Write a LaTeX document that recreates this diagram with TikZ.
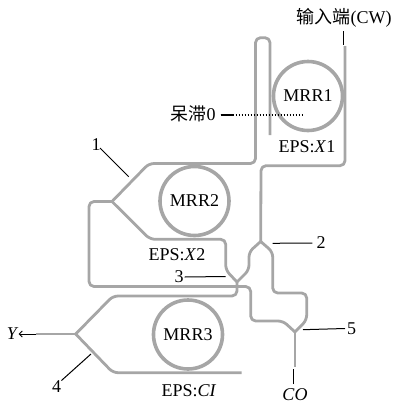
\documentclass[tikz,border=0pt]{standalone}
\usepackage{fontspec}
\setmainfont{Liberation Serif}
\newfontfamily\cjk{Noto Sans CJK SC}
\usepackage{xcolor}
\definecolor{guidegray}{RGB}{166, 166, 166}
\usetikzlibrary{arrows.meta}
\tikzset{
    guide/.style={draw=guidegray, line width=2.8pt, line join=round, rounded corners=5pt},
    ring/.style={draw=guidegray, line width=3.6pt, circle, minimum size=69pt, inner sep=0pt},
    leader/.style={draw=black, line width=1pt},
    lab/.style={inner sep=0pt, font=\fontsize{18}{20}\selectfont}
}
\begin{document}
\begin{tikzpicture}[x=1pt, y=-1pt]
    \useasboundingbox (0, 0) rectangle (404, 405);

    % Rings
    \node[ring, lab] (mrr1) at (308, 96) {MRR1};
    \node[ring, lab] (mrr2) at (194.5, 201) {MRR2};
    \node[ring, lab] (mrr3) at (188, 334.5) {MRR3};

    % Junctions and free ends
    \coordinate (j1) at (112, 201.5);
    \coordinate (j2) at (260.7, 241.5);
    \coordinate (j3) at (237, 282);
    \coordinate (j4) at (75.7, 334);
    \coordinate (j5) at (295, 332);
    \coordinate (inend) at (345, 46);
    \coordinate (dropend) at (270, 135);
    \coordinate (coend) at (295, 367);
    \coordinate (yend) at (36, 334);
    \coordinate (addend) at (241.7, 372.7);

    % Waveguides
    \draw[guide] (inend) -- (345, 165.7) -- (261, 165.7) -- (j2);
    \draw[guide] (j1) -- (149, 163.5) -- (255.5, 163.5) -- (255.5, 37.7) -- (270, 37.7) -- (dropend);
    \draw[guide] (j1) -- (150, 239.3) -- (225.7, 239.3) -- (225.7, 270) -- (j3);
    \draw[guide] (j2) -- (249, 252) -- (249, 270) -- (j3);
    \draw[guide] (j3) -- (237, 296) -- (113, 296) -- (j4);
    \draw[guide] (j1) -- (89, 201.5) -- (89, 286.5) -- (250.7, 286.5) -- (250.7, 321) -- (283, 321) -- (j5);
    \draw[guide] (j2) -- (272.7, 252) -- (272.7, 293) -- (306.7, 293) -- (306.7, 320) -- (j5);
    \draw[guide] (j5) -- (coend);
    \draw[guide] (j4) -- (yend);
    \draw[guide] (j4) -- (113, 372.7) -- (addend);

    % Labels
    \node[lab] (eps1) at (307, 146.7) {EPS:\textit{X}1};
    \node[lab] (eps2) at (177, 255) {EPS:\textit{X}2};
    \node[lab] (epsc) at (189, 390.7) {EPS:\textit{CI}};
    \node[lab] (input) at (344, 18) {{\cjk 输入端}(CW)};
    \node[lab] (still) at (193, 114) {{\cjk 呆滞}0};
    \node[lab] (n1) at (96, 145) {1};
    \node[lab] (n2) at (321, 243) {2};
    \node[lab] (n3) at (179, 277) {3};
    \node[lab] (n4) at (56.7, 386.7) {4};
    \node[lab] (n5) at (351.7, 328.5) {5};
    \node[lab] (y) at (12.7, 334) {\textit{Y}};
    \node[lab] (co) at (295, 395) {\textit{CO}};

    % Leader lines
    \coordinate (a1) at (128.7, 176.7);
    \coordinate (a2) at (272.7, 243.3);
    \coordinate (a3) at (225.7, 276.5);
    \coordinate (a4) at (91, 354);
    \coordinate (a5) at (303, 329.7);
    \coordinate (ain) at (343.7, 45);
    \coordinate (aco) at (293, 369);
    \coordinate (ay) at (36, 334);
    \coordinate (still0) at (302.7, 115);
    \draw[leader] (100, 148) -- (a1);
    \draw[leader] (n2.west) ++(-4, 0) -- (a2);
    \draw[leader] (n3.east) ++(1, 0) -- (a3);
    \draw[leader] (n4.north east) -- (a4);
    \draw[leader] (n5.west) ++(-2, 0) -- (a5);
    \draw[leader] (343.7, 31) -- (ain);
    \draw[leader] (293, 384) -- (aco);
    \draw[leader, line width=0.8pt, -{Straight Barb[length=3pt, width=6pt]}] (ay) -- (y.east);
    \draw[leader, dotted, line width=1.2pt] (still.east) ++(5, 1) -- (still0);
    \draw[leader, line width=1.2pt] (still.east) ++(5, 1) -- ++(13, 0);
\end{tikzpicture}
\end{document}
